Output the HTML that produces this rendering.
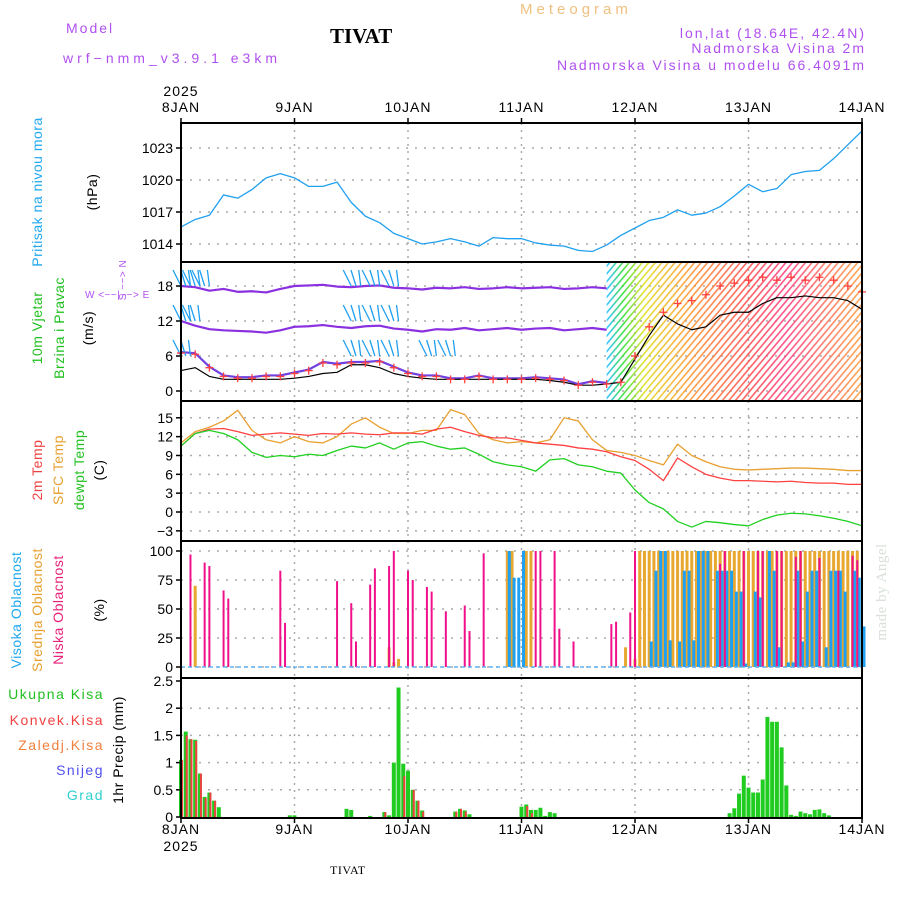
<!DOCTYPE html>
<html><head><meta charset="utf-8"><style>
body{margin:0;background:#fff;width:900px;height:900px;overflow:hidden}
svg text{font-family:"Liberation Sans",sans-serif}
</style></head><body>
<svg id="chart" width="900" height="900" viewBox="0 0 900 900" xmlns="http://www.w3.org/2000/svg">
<defs>
<linearGradient id="wgrad" x1="608" x2="862" y1="0" y2="0" gradientUnits="userSpaceOnUse">
<stop offset="0" stop-color="#20c0ff"/><stop offset="0.06" stop-color="#30e030"/><stop offset="0.14" stop-color="#e0e020"/><stop offset="0.3" stop-color="#ffa030"/><stop offset="0.55" stop-color="#ff5050"/><stop offset="0.7" stop-color="#ff4080"/><stop offset="1" stop-color="#ffa040"/>
</linearGradient>
<pattern id="hatch" width="5" height="5" patternUnits="userSpaceOnUse" patternTransform="rotate(40)">
<rect width="5" height="5" fill="#000"/><rect width="1.6" height="5" fill="#fff"/>
</pattern>
<mask id="hmask"><rect x="0" y="0" width="900" height="900" fill="url(#hatch)"/></mask>
</defs>
<g id="texts" font-size="14" letter-spacing="2">
<text x="66" y="33" fill="#b050f0">Model</text>
<text x="63" y="63" fill="#b050f0" letter-spacing="4">wrf−nmm_v3.9.1 e3km</text>
<text x="330" y="43" font-weight="bold" font-size="21" letter-spacing="0" fill="#000" style="font-family:'Liberation Serif',serif">TIVAT</text>
<text x="520" y="14" fill="#f0c080" font-size="15" letter-spacing="4">Meteogram</text>
<text x="866" y="38" text-anchor="end" fill="#b050f0">lon,lat (18.64E, 42.4N)</text>
<text x="866" y="53" text-anchor="end" fill="#b050f0">Nadmorska Visina 2m</text>
<text x="866" y="70" text-anchor="end" fill="#b050f0">Nadmorska Visina u modelu 66.4091m</text>
</g>
<g id="grid"></g>
<g id="marks"></g>
<g id="axes"></g>
<g font-size="14" letter-spacing="0.5">
<text transform="translate(42,192) rotate(-90)" text-anchor="middle" fill="#20a8f0">Pritisak na nivou mora</text>
<text transform="translate(97,192) rotate(-90)" text-anchor="middle" fill="#000">(hPa)</text>
<text transform="translate(42,328) rotate(-90)" text-anchor="middle" fill="#20c020">10m Vjetar</text>
<text transform="translate(64,328) rotate(-90)" text-anchor="middle" fill="#20c020">Brzina i Pravac</text>
<text transform="translate(93,328) rotate(-90)" text-anchor="middle" fill="#000">(m/s)</text>
<text transform="translate(126,280) rotate(-90)" text-anchor="middle" fill="#b050f0" font-size="10">S −−&gt; N</text>
<text x="85" y="298" fill="#b050f0" font-size="10">W &lt;−−|−−&gt; E</text>
<text transform="translate(42,470) rotate(-90)" text-anchor="middle" fill="#f04040">2m Temp</text>
<text transform="translate(63,470) rotate(-90)" text-anchor="middle" fill="#e8a030">SFC Temp</text>
<text transform="translate(84,470) rotate(-90)" text-anchor="middle" fill="#20c020">dewpt Temp</text>
<text transform="translate(104,470) rotate(-90)" text-anchor="middle" fill="#000">(C)</text>
<text transform="translate(21,610) rotate(-90)" text-anchor="middle" fill="#20a8f0">Visoka Oblacnost</text>
<text transform="translate(42,610) rotate(-90)" text-anchor="middle" fill="#e8a030">Srednja Oblacnost</text>
<text transform="translate(63,610) rotate(-90)" text-anchor="middle" fill="#e8207a">Niska Oblacnost</text>
<text transform="translate(104,610) rotate(-90)" text-anchor="middle" fill="#000">(%)</text>
<text x="104" y="699" text-anchor="end" fill="#20c020" letter-spacing="1.5">Ukupna  Kisa</text>
<text x="104" y="725" text-anchor="end" fill="#f04040" letter-spacing="1.5">Konvek.Kisa</text>
<text x="104" y="750" text-anchor="end" fill="#f08040" letter-spacing="1.5">Zaledj.Kisa</text>
<text x="104" y="775" text-anchor="end" fill="#5050f0" letter-spacing="1.5">Snijeg</text>
<text x="104" y="800" text-anchor="end" fill="#30d0d0" letter-spacing="1.5">Grad</text>
<text transform="translate(123,750) rotate(-90)" text-anchor="middle" fill="#000">1hr Precip (mm)</text>
<text transform="translate(886,592) rotate(-90)" text-anchor="middle" fill="#d8e0d8" font-size="15" style="font-family:'Liberation Serif',serif">made by Angel</text>
<text x="330" y="874" font-size="12" fill="#000" style="font-family:'Liberation Serif',serif">TIVAT</text>
</g>
</svg>
<script>
const pressure=[1015.6,1016.3,1016.7,1018.6,1018.3,1019.1,1020.2,1020.6,1020.2,1019.4,1019.4,1019.8,1017.9,1016.6,1016.0,1015.0,1014.5,1014.0,1014.2,1014.5,1014.2,1013.8,1014.6,1014.5,1014.5,1014.1,1013.9,1013.8,1013.4,1013.3,1013.9,1014.8,1015.5,1016.2,1016.5,1017.2,1016.7,1016.9,1017.5,1018.5,1019.6,1018.9,1019.2,1020.5,1020.8,1020.9,1022.0,1023.3,1024.6];
const temp2m=[10.5,12.5,13.2,13.3,12.8,12.2,12.4,12.6,12.4,12.2,12.5,12.4,12.6,12.4,12.3,12.6,12.6,12.4,13.2,13.5,12.8,12.2,11.8,11.8,11.4,11.0,10.8,10.6,10.2,10.0,9.6,8.8,8.2,6.8,5.0,8.6,7.2,6.0,5.4,5.0,5.0,4.9,4.8,4.9,4.7,4.6,4.6,4.4,4.4];
const tempSfc=[11,12.8,13.5,14.5,16.2,13,11.5,11,12,11.2,11,12,14,15,13.5,12.5,12.5,13,13,16.3,15.5,12.5,11.5,11,11.2,11,11.5,15,14.5,11.5,9.8,9.5,9,8.2,7.5,10.8,9,8,7.2,6.8,6.7,6.8,6.9,7.0,7.0,6.9,6.8,6.6,6.6];
const dewpt=[10.5,12.5,13,12.5,11.5,9.5,8.7,9,8.8,9.2,9.0,9.8,10.5,10.2,11,10,11,11.2,10.5,10,10.2,9.2,8,7.5,7.2,6.5,8.3,8.5,7.5,7.2,6.5,6.2,3.5,1.5,0.5,-1.5,-2.4,-1.5,-1.7,-2,-2.2,-1.2,-0.5,-0.2,-0.3,-0.6,-1.0,-1.5,-2.2];
const windSpeed=[6.5,6.3,4,2.5,2.2,2.2,2.5,2.5,3,3.5,4.8,4.5,4.8,4.8,5,4,3,2.5,2.5,2,2,2.5,2,2,2,2.2,2,1.8,1,1.5,1.2,1.5,6,11,13.5,15,15.5,16.5,18,18.5,19,19.5,19,19.5,19,19.5,19,18,17];
const windSmooth=[3.5,4,2.5,2,2,2,2,2,2.2,2.5,3,3.2,4.5,4.5,4,3,2.5,2.2,2,2,2,2,2,2,2,2,1.8,1.5,1,1,1.2,1.5,5.5,9.5,13,11.5,10.5,11,13,13.5,13.5,15,16,16,16.3,16,16,15.5,14];
const windRowTop=[18,17.8,17.2,17.5,17.0,17.1,16.9,17.5,18.0,18.1,18.2,17.9,17.8,18.0,18.1,17.7,17.6,17.4,17.7,17.6,17.8,17.5,17.6,17.8,17.6,17.7,17.8,17.5,17.6,17.8,17.6];
const windRowMid=[12,11.2,10.6,10.4,10.3,10.2,10.0,10.4,11.0,11.1,11.3,11.0,10.8,11.1,11.2,10.7,10.5,10.2,10.6,10.5,10.8,10.4,10.6,10.8,10.5,10.7,10.8,10.4,10.6,10.8,10.5];
const lowHours=[2,5,6,9,10,21,22,33,36,37,40,41,44,45,48,49,52,53,56,60,61,64,75,76,79,80,83,91,92,95,96,114,115,119,122,123,126,127,130,131,135,139,142,143];
const lowVals=[97,90,87,66,59,83,38,74,55,22,71,85,87,100,83,75,69,65,48,53,31,98,100,100,100,33,22,37,39,47,100,89,100,100,100,100,100,100,95,100,94,83,96,92];
const midHours=[3,44,45,46,69,70,73,74,94,96,97,98,99,100,101,102,103,104,105,106,107,108,109,110,111,112,113,114,115,116,117,118,119,120,121,122,123,124,125,126,127,128,129,130,131,132,133,134,135,136,137,138,139,140,141,142,143];
const midVals=[70,17,4,7,100,100,100,100,17,7,100,100,100,100,100,100,100,100,100,100,100,100,100,100,100,100,100,100,100,100,100,100,100,100,100,100,100,100,100,100,100,100,100,100,100,100,100,100,100,100,100,100,100,100,100,100,100];
const highHours=[69,70,71,72,99,100,101,102,103,105,106,107,108,109,110,111,113,114,115,116,117,118,119,121,122,124,125,126,128,129,130,131,132,133,134,136,137,138,139,140,142,143,144];
const highVals=[100,77,77,100,22,83,100,100,23,22,83,83,23,100,100,100,83,83,83,83,65,65,3,65,60,100,83,17,4,4,83,22,65,83,83,17,83,83,83,65,83,77,35];
const precipHours=[0,1,2,3,4,5,6,7,8,23,24,35,36,40,43,44,45,46,47,48,49,50,51,58,59,60,61,72,73,74,75,76,77,78,79,116,117,118,119,120,121,122,123,124,125,126,127,128,129,130,131,132,133,134,135,136,137];
const precipTotal=[1.05,1.57,1.43,1.42,0.8,0.37,0.45,0.3,0.18,0.03,0.03,0.15,0.13,0.02,0.09,0.03,1.0,2.38,0.98,0.85,0.5,0.3,0.12,0.1,0.15,0.12,0.05,0.19,0.23,0.13,0.13,0.17,0.02,0.09,0.07,0.07,0.16,0.43,0.76,0.54,0.45,0.45,0.69,1.84,1.75,1.75,1.28,0.58,0.04,0.02,0.1,0.07,0.05,0.13,0.14,0.07,0.03];
const precipConv=[1.05,1.5,1.43,1.4,0.8,0.35,0.45,0.3,0,0,0,0,0,0,0.09,0,0,0,0.75,0,0.5,0.3,0.1,0.1,0.15,0.1,0,0,0.2,0.07,0,0,0,0,0,0,0,0,0,0,0,0,0,0,0,0,0,0,0,0,0,0,0,0,0,0,0];
const pTicks=[1014,1017,1020,1023];
const wTicks=[0,6,12,18];
const tTicks=[-3,0,3,6,9,12,15];
const cTicks=[0,25,50,75,100];
const rTicks=[0,0.5,1,1.5,2,2.5];
const rTickLabels=["0","0.5","1","1.5","2","2.5"];
const dayLabels=["8JAN","9JAN","10JAN","11JAN","12JAN","13JAN","14JAN"];

const NS="http://www.w3.org/2000/svg";
const X=h=>181+h*681/144;
const YP=v=>148+(1023-v)*10.667;
const YW=v=>391-v*5.833;
const YT=v=>512-v*6.28;
const YC=v=>667-v*1.16;
const YR=v=>817-v*54.4;
const panels=[{y0:123,y1:262,f:YP,t:pTicks,l:pTicks.map(String),n:'pressure'},{y0:262,y1:401,f:YW,t:wTicks,l:wTicks.map(String),n:'wind'},{y0:401,y1:541,f:YT,t:tTicks,l:tTicks.map(v=>v<0?'−'+(-v):String(v)),n:'temp'},{y0:541,y1:678,f:YC,t:cTicks,l:cTicks.map(String),n:'cloud'},{y0:678,y1:818,f:YR,t:rTicks,l:rTickLabels,n:'precip'}];
function mk(tag,attrs,parent){const e=document.createElementNS(NS,tag);for(const k in attrs)e.setAttribute(k,attrs[k]);parent.appendChild(e);return e;}
const grid=document.getElementById('grid'),marks=document.getElementById('marks'),axes=document.getElementById('axes');
panels.forEach(p=>{
  p.t.forEach((v,i)=>{
    const y=p.f(v);
    if(y>p.y0+3&&y<p.y1-3){const g=mk('line',{x1:181,x2:862,y1:y,y2:y,stroke:'#aaa','stroke-dasharray':'2,7','stroke-width':1.5},grid);
    
    }
    const tk=mk('line',{x1:176,x2:181,y1:y,y2:y,stroke:'#000','stroke-width':1.5},axes);
    
    
    const tx=mk('text',{x:173,y:y+5,'text-anchor':'end','font-size':14,fill:'#000'},axes);tx.textContent=p.l[i];
    
    
  });
  for(let d=1;d<6;d++){const g=mk('line',{x1:X(d*24),x2:X(d*24),y1:p.y0,y2:p.y1,stroke:'#aaa','stroke-dasharray':'2,5','stroke-width':1.5},grid);
  
  }
  const r=mk('rect',{x:181,y:p.y0,width:681,height:p.y1-p.y0,fill:'none',stroke:'#000','stroke-width':2},axes);
  
  
});
dayLabels.forEach((d,i)=>{
  [[112,'top'],[834,'bottom']].forEach(([y,s])=>{
    const t=mk('text',{x:X(i*24),y:y,'text-anchor':'middle','font-size':14,fill:'#000','letter-spacing':1},axes);t.textContent=d;
    
    
    const tk=mk('line',{x1:X(i*24),x2:X(i*24),y1:s=='top'?118:818,y2:s=='top'?123:823,stroke:'#000','stroke-width':1.5},axes);
    
    
  });
});
[[96,'top'],[851,'bottom']].forEach(([y,s])=>{const t=mk('text',{x:181,y:y,'text-anchor':'middle','font-size':14,fill:'#000','letter-spacing':1},axes);t.textContent='2025';

});

function line(arr,step,f,color,w,name){const pts=arr.map((v,i)=>X(i*step)+','+f(v)).join(' ');
  const e=mk('polyline',{points:pts,fill:'none',stroke:color,'stroke-width':w,'stroke-linejoin':'round'},marks);
  
  return e;}
line(pressure,3,YP,'#20a0f0',1.3,'pressure-line');
const hr=mk('rect',{x:X(90),y:263,width:862-X(90),height:137,fill:'url(#wgrad)',mask:'url(#hmask)',opacity:0.9},marks);


line(windRowTop,3,YW,'#8a30e0',2.2,'wind-direction-row-top');
line(windRowMid,3,YW,'#8a30e0',2.2,'wind-direction-row-mid');
line(windSpeed.slice(0,31),3,v=>YW(v)-1,'#7040e0',2.2,'wind-direction-row-bottom');
[[0,18],[2,18],[4,18],[0,12],[2,12],[0,6],[36,18],[40,18],[44,18],[36,12],[40,12],[44,12],[36,6],[40,6],[44,6],[52,6],[56,6]].forEach(([h,b])=>{
  for(let k=0;k<3;k++){const a=mk('line',{x1:X(h+k),y1:YW(b),x2:X(h+k)-8+k*3,y2:YW(b)-16,stroke:'#20a0f0','stroke-width':1.3},marks);
  
  }
});
line(windSmooth,3,YW,'#000',1.2,'wind-speed-line');
windSpeed.forEach((v,i)=>{const x=X(i*3),y=YW(v);
  const p=mk('path',{d:`M${x-4},${y}h8M${x},${y-4}v8`,stroke:'#ff4040','stroke-width':1.3},marks);
  
  });
line(tempSfc,3,YT,'#e8a030',1.3,'sfc-temp-line');
line(temp2m,3,YT,'#ff4040',1.3,'2m-temp-line');
line(dewpt,3,YT,'#20d020',1.3,'dewpoint-line');
function bars(hours,vals,color,w,off,f,name){hours.forEach((h,i)=>{if(vals[i]<=0)return;const y=f(vals[i]);
  const b=mk('rect',{x:X(h)+off,y:y,width:w,height:f(0)-y,fill:color},marks);
  
  });}
bars(midHours,midVals,'#e8a830',3,-1.5,YC,'mid-cloud-bar');
bars(highHours,highVals,'#20a0f0',3,0.5,YC,'high-cloud-bar');
bars(lowHours,lowVals,'#f0108a',2,-1,YC,'low-cloud-bar');
const cb=mk('line',{x1:181,x2:862,y1:YC(0),y2:YC(0),stroke:'#60b0f0','stroke-width':1.5,'stroke-dasharray':'4,3'},marks);


bars(precipHours,precipTotal,'#20cc20',4,-2,YR,'total-precip-bar');
bars(precipHours,precipConv,'#f04040',2,0,YR,'convective-precip-bar');
</script>
</body></html>
